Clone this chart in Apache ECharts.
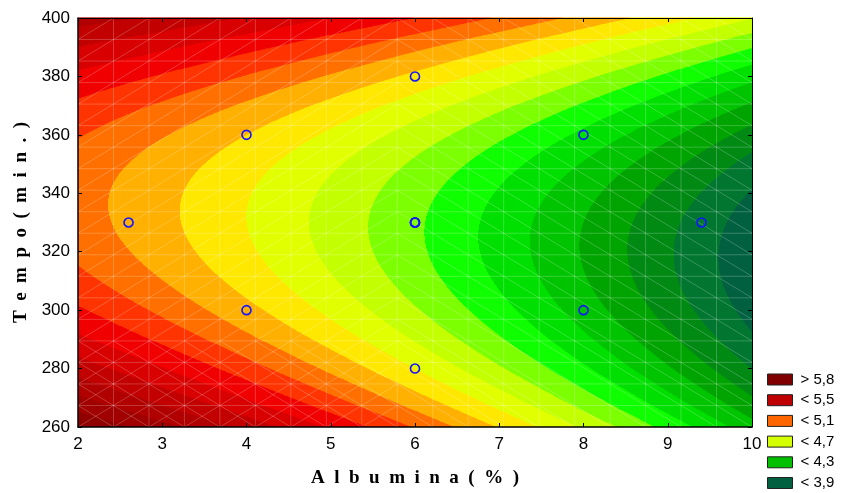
<!DOCTYPE html>
<html>
<head>
<meta charset="utf-8">
<script src="https://cdn.jsdelivr.net/npm/echarts@6/dist/echarts.min.js"></script>
<style>
  html, body { margin: 0; padding: 0; background: #ffffff; }
  #chart { width: 841px; height: 493px; }
</style>
</head>
<body>
<div id="chart"></div>
<script>
// Axis ranges and tick labels
const albuminaRange = [2, 10];
const tempoRange = [260, 400];
const albuminaTicks = [2, 3, 4, 5, 6, 7, 8, 9, 10];
const tempoTicks = [260, 280, 300, 320, 340, 360, 380, 400];

// Experimental design points (Albumina %, Tempo min.)
const designAlbumina = [2.6, 4, 4, 6, 6, 6, 6, 6, 8, 8, 9.4];
const designTempo    = [330, 360, 300, 380, 330, 330, 330, 280, 360, 300, 330];

// Fitted second-order response surface:
// z = b0 + b1*A + b2*A^2 + b3*(T - (c0 + c1*A))^2
const modelB = [5.2367, -0.08784, -0.005352, 0.000128];
const modelRidge = [342, -2.5];

// Contour levels (band boundaries) and band colours, low to high
const contourLevels = [3.9, 4.0, 4.1, 4.2, 4.3, 4.4, 4.5, 4.6, 4.7, 4.8,
                       4.9, 5.0, 5.1, 5.2, 5.3, 5.4, 5.5, 5.6, 5.7, 5.8];
const bandColors = ['#00603f', '#007630', '#008a14', '#00a400', '#00c400',
                    '#00e000', '#10ff00', '#7cff00', '#c4ff00', '#e2ff00',
                    '#ffe800', '#ffb000', '#ff7000', '#ff3400', '#f00000',
                    '#d80000', '#c20000', '#b00000', '#a00000', '#900000', '#800000'];

// Legend entries
const legendLabels = ['> 5,8', '< 5,5', '< 5,1', '< 4,7', '< 4,3', '< 3,9'];
const legendColors = ['#800000', '#c00000', '#ff6600', '#d4ff00', '#00c000', '#006040'];

// Triangular mesh of the surface plot (19 x 19 cells)
const meshCells = 19;

function responseAt(a, t) {
  const r = t - (modelRidge[0] + modelRidge[1] * a);
  return modelB[0] + modelB[1] * a + modelB[2] * a * a + modelB[3] * r * r;
}
function bandOf(z) {
  let b = 0;
  while (b < contourLevels.length && z >= contourLevels[b]) b++;
  return b;
}

// Column strips: each item = [A, T low, T high, z inside the strip]
const cols = 674, rows = 824;
const colW = (albuminaRange[1] - albuminaRange[0]) / cols;
const rowH = (tempoRange[1] - tempoRange[0]) / rows;
const surfaceData = [];
for (let c = 0; c < cols; c++) {
  const a = albuminaRange[0] + (c + 0.5) * colW;
  let start = 0;
  let startBand = bandOf(responseAt(a, tempoRange[0] + 0.5 * rowH));
  for (let r = 1; r <= rows; r++) {
    const band = r < rows ? bandOf(responseAt(a, tempoRange[0] + (r + 0.5) * rowH)) : -1;
    if (band !== startBand) {
      const mid = Math.floor((start + r - 1) / 2);
      surfaceData.push([a, tempoRange[0] + start * rowH, tempoRange[0] + r * rowH,
                        responseAt(a, tempoRange[0] + (mid + 0.5) * rowH)]);
      start = r;
      startBand = band;
    }
  }
}

// Mesh segments: [A1, T1, A2, T2]
const meshData = [];
const stepA = (albuminaRange[1] - albuminaRange[0]) / meshCells;
const stepT = (tempoRange[1] - tempoRange[0]) / meshCells;
for (let i = 1; i < meshCells; i++) {
  const a = albuminaRange[0] + i * stepA;
  const t = tempoRange[0] + i * stepT;
  meshData.push([a, tempoRange[0], a, tempoRange[1]]);
  meshData.push([albuminaRange[0], t, albuminaRange[1], t]);
}
for (let i = 0; i < meshCells; i++) {
  for (let j = 0; j < meshCells; j++) {
    const a0 = albuminaRange[0] + i * stepA, a1 = a0 + stepA;
    const t0 = tempoRange[0] + j * stepT, t1 = t0 + stepT;
    if (i < 9) {
      meshData.push([a0, t0, a1, t1]);
      if (j < 4) meshData.push([a0, t1, a1, t0]);
    } else {
      meshData.push([a0, t1, a1, t0]);
    }
  }
}

const pieces = bandColors.map(function (col, i) {
  const p = { color: col };
  if (i > 0) p.gte = contourLevels[i - 1];
  if (i < contourLevels.length) p.lt = contourLevels[i];
  return p;
});

const tickFont = { fontFamily: 'Liberation Sans, Arial, sans-serif', fontSize: 17, color: '#000' };
const titleFont = { fontFamily: 'Liberation Serif, Times New Roman, serif', fontWeight: 'bold', fontSize: 19, color: '#000' };

function spaced(s) { return s.split('').join('  '); }

const chart = echarts.init(document.getElementById('chart'), null, { renderer: 'canvas' });

const legendSeries = legendLabels.map(function (name, i) {
  return { name: name, type: 'scatter', data: [], itemStyle: { color: legendColors[i], opacity: 1 } };
});

chart.setOption({
  animation: false,
  backgroundColor: '#ffffff',
  grid: { left: 78, right: 89, top: 18, bottom: 63, show: false },
  visualMap: {
    type: 'piecewise', show: false, dimension: 3, seriesIndex: 0, pieces: pieces
  },
  legend: {
    data: legendLabels,
    orient: 'vertical',
    left: 767, top: 372,
    padding: 0,
    icon: 'rect',
    itemWidth: 25, itemHeight: 11, itemGap: 5.7,
    itemStyle: { borderColor: '#222', borderWidth: 1, opacity: 1 },
    textStyle: Object.assign({}, tickFont, { fontSize: 15, padding: [0, 0, 0, 3] }),
    selectedMode: false
  },
  xAxis: [{
    type: 'value', position: 'bottom', min: albuminaRange[0], max: albuminaRange[1], interval: 1, z: 10,
    axisLine: { onZero: false, lineStyle: { color: '#000', width: 1.5 } },
    axisTick: { inside: true, length: 4, lineStyle: { color: '#000' } },
    axisLabel: Object.assign({ margin: 9, formatter: function (v) { return albuminaTicks.indexOf(v) >= 0 ? String(v) : ''; } }, tickFont),
    splitLine: { show: false },
    name: spaced('Albumina(%)'), nameLocation: 'middle', nameGap: 42, nameTextStyle: titleFont
  }, {
    type: 'value', position: 'top', min: albuminaRange[0], max: albuminaRange[1], interval: 1, z: 10,
    axisLine: { onZero: false, lineStyle: { color: '#000', width: 1 } },
    axisTick: { inside: true, length: 4, lineStyle: { color: '#000' } },
    axisLabel: { show: false }, splitLine: { show: false }
  }],
  yAxis: [{
    type: 'value', position: 'left', min: tempoRange[0], max: tempoRange[1], interval: 20, z: 10,
    axisLine: { onZero: false, lineStyle: { color: '#000', width: 1.5 } },
    axisTick: { inside: true, length: 4, lineStyle: { color: '#000' } },
    axisLabel: Object.assign({ margin: 8, formatter: function (v) { return tempoTicks.indexOf(v) >= 0 ? String(v) : ''; } }, tickFont),
    splitLine: { show: false },
    name: spaced('Tempo(min.)'), nameLocation: 'middle', nameGap: 47, nameRotate: 90, nameTextStyle: titleFont
  }, {
    type: 'value', position: 'right', min: tempoRange[0], max: tempoRange[1], interval: 20, z: 10,
    axisLine: { onZero: false, lineStyle: { color: '#000', width: 1 } },
    axisTick: { inside: true, length: 4, lineStyle: { color: '#000' } },
    axisLabel: { show: false }, splitLine: { show: false }
  }],
  series: [{
    type: 'custom',
    name: 'surface',
    coordinateSystem: 'cartesian2d',
    clip: true,
    silent: true,
    z: 1,
    encode: { x: 0, y: [1, 2] },
    data: surfaceData,
    renderItem: function (params, api) {
      const a = api.value(0);
      const p0 = api.coord([a - colW / 2, api.value(2)]);
      const p1 = api.coord([a + colW / 2, api.value(1)]);
      return {
        type: 'rect',
        shape: { x: p0[0], y: p0[1] - 0.6, width: p1[0] - p0[0] + 0.5, height: p1[1] - p0[1] + 0.6 },
        style: { fill: api.visual('color') }
      };
    }
  }, {
    type: 'custom',
    name: 'mesh',
    coordinateSystem: 'cartesian2d',
    clip: true,
    silent: true,
    z: 2,
    encode: { x: [0, 2], y: [1, 3] },
    data: meshData,
    renderItem: function (params, api) {
      const p0 = api.coord([api.value(0), api.value(1)]);
      const p1 = api.coord([api.value(2), api.value(3)]);
      return {
        type: 'line',
        shape: { x1: p0[0], y1: p0[1], x2: p1[0], y2: p1[1] },
        style: { stroke: 'rgba(255,255,255,0.22)', lineWidth: 1 }
      };
    }
  }, {
    type: 'scatter',
    name: 'design',
    z: 5,
    symbol: 'circle',
    symbolSize: 9,
    itemStyle: { color: 'rgba(0,0,0,0)', borderColor: '#1414ff', borderWidth: 1.6, opacity: 1 },
    data: designAlbumina.map(function (a, i) { return [a, designTempo[i]]; })
  }].concat(legendSeries)
});
</script>
</body>
</html>
